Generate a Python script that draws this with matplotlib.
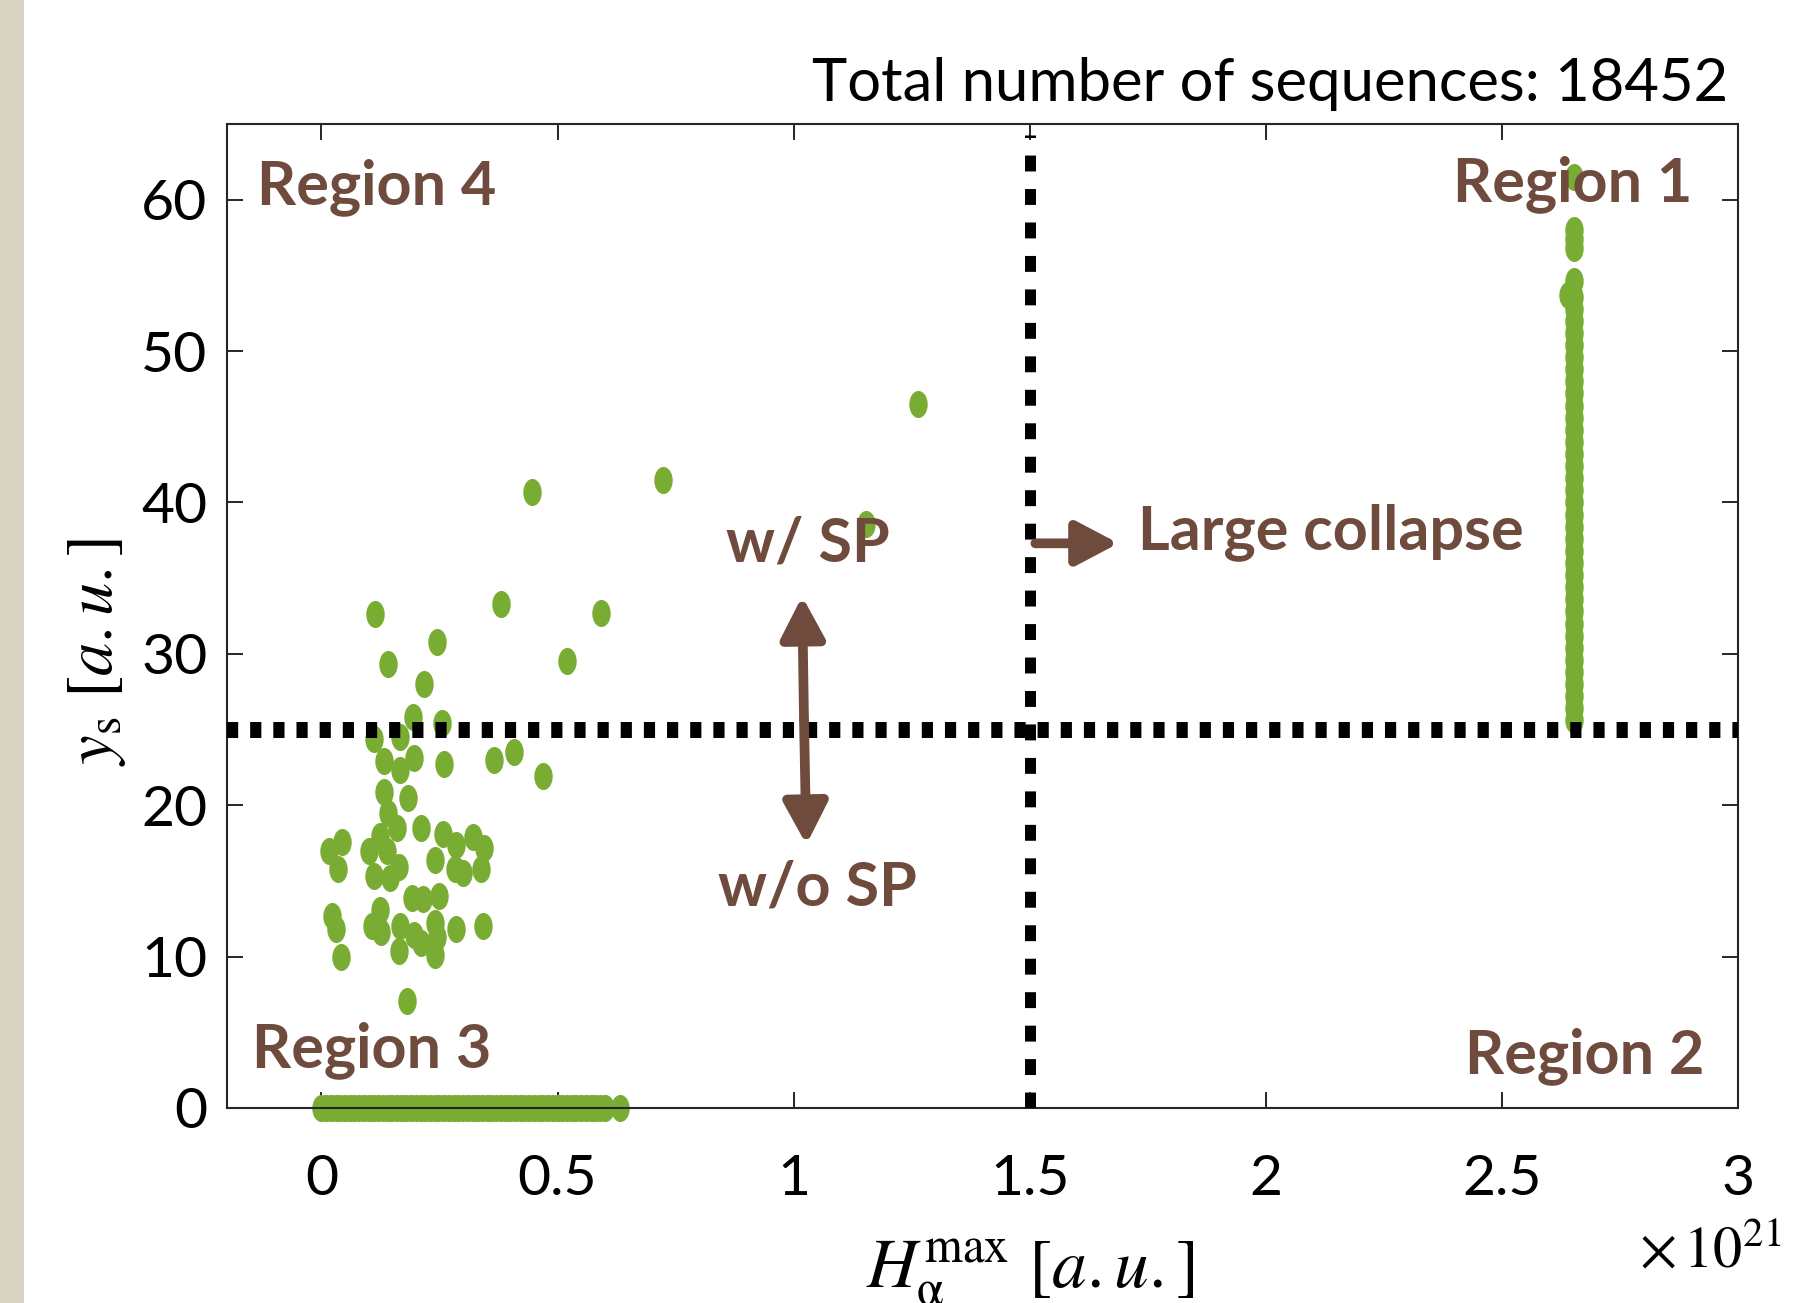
import matplotlib
matplotlib.use("Agg")
import matplotlib.pyplot as plt
from matplotlib.path import Path
from matplotlib.transforms import Affine2D
from matplotlib.patches import Rectangle, FancyArrowPatch

plt.rcParams["font.family"] = ["Lato", "DejaVu Sans"]
plt.rcParams["mathtext.fontset"] = "stix"

GREEN = "#79ac32"
BROWN = "#6f4b3e"
INK = "#262626"

# scattered sequences (x in units of 1e21)
scat_x = [0.113, 0.380, 0.245, 0.142, 0.217, 0.194, 0.255, 0.111, 0.167, 0.133,
          0.195, 0.167, 0.259, 0.366, 0.407, 0.469, 0.132, 0.183, 0.142, 0.160,
          0.123, 0.210, 0.044, 0.015, 0.100, 0.139, 0.257, 0.284, 0.320, 0.344,
          0.035, 0.111, 0.146, 0.164, 0.241, 0.282, 0.299, 0.337, 0.191, 0.215,
          0.248, 0.023, 0.030, 0.123, 0.107, 0.127, 0.166, 0.195, 0.210, 0.241,
          0.245, 0.284, 0.342, 0.042, 0.165, 0.241, 0.181,
          1.263, 0.446, 0.723, 1.153, 0.591, 0.519]
scat_y = [32.6, 33.3, 30.8, 29.3, 28.0, 25.8, 25.4, 24.4, 24.5, 22.9,
          23.1, 22.3, 22.7, 23.0, 23.5, 21.9, 20.9, 20.5, 19.5, 18.5,
          18.0, 18.5, 17.6, 17.0, 17.0, 17.0, 18.1, 17.4, 17.9, 17.2,
          15.8, 15.3, 15.2, 15.9, 16.4, 15.8, 15.5, 15.8, 13.9, 13.8,
          14.0, 12.7, 11.8, 13.1, 12.0, 11.6, 12.0, 11.4, 10.9, 12.2,
          11.3, 11.8, 12.0, 10.0, 10.4, 10.1, 7.1,
          46.5, 40.7, 41.5, 38.6, 32.7, 29.5]

# region 3: y_s = 0
bar_x = [0.00, 0.01, 0.02, 0.03, 0.04, 0.05, 0.06, 0.07, 0.08, 0.09,
         0.10, 0.11, 0.12, 0.13, 0.14, 0.15, 0.16, 0.17, 0.18, 0.19,
         0.20, 0.21, 0.22, 0.23, 0.24, 0.25, 0.26, 0.27, 0.28, 0.29,
         0.30, 0.31, 0.32, 0.33, 0.34, 0.35, 0.36, 0.37, 0.38, 0.39,
         0.40, 0.41, 0.42, 0.43, 0.44, 0.45, 0.46, 0.47, 0.48, 0.49,
         0.50, 0.51, 0.52, 0.53, 0.54, 0.55, 0.56, 0.57, 0.58, 0.59,
         0.60, 0.633]
bar_y = [0.0] * len(bar_x)

# region 1: large collapse column
col_y = [25.6, 26.4, 27.2, 28.0, 28.8, 29.6, 30.4, 31.2, 32.0, 32.8,
         33.6, 34.4, 35.2, 36.0, 36.8, 37.6, 38.4, 39.2, 40.0, 40.8,
         41.6, 42.4, 43.2, 44.0, 44.8, 45.6, 46.4, 47.2, 48.0, 48.8,
         49.6, 50.4, 51.2, 52.0, 52.8, 53.6, 54.6, 56.8, 57.4, 58.0,
         61.5]
col_x = [2.653] * len(col_y)
off_x = [2.640]
off_y = [53.7]

n_total = 18452
x_ticks = [0, 0.5, 1, 1.5, 2, 2.5, 3]
x_ticklabels = ["0", "0.5", "1", "1.5", "2", "2.5", "3"]
y_ticks = [0, 10, 20, 30, 40, 50, 60]

W, H = 1793, 1303
fig = plt.figure(figsize=(W / 100, H / 100), dpi=100)
fig.patches.append(Rectangle((0, 0), 24 / W, 1, transform=fig.transFigure,
                             facecolor="#d8d2c3", edgecolor="none"))
ax = fig.add_axes([227 / W, 1 - 1108 / H, (1738 - 227) / W, (1108 - 124) / H])

ell = Path.unit_circle().transformed(Affine2D().scale(0.68, 1.0))
kw = dict(linestyle="none", marker=ell, ms=19.5, mfc=GREEN, mec="none", zorder=2)
ax.plot(bar_x, bar_y, clip_on=False, **kw)
ax.plot(scat_x, scat_y, **kw)
ax.plot(col_x, col_y, **kw)
ax.plot(off_x, off_y, **kw)

# thresholds
hl, = ax.plot([-0.2, 3], [25, 25], color="black", lw=11.5, zorder=3,
              dash_capstyle="butt")
hl.set_dashes([0.7, 0.75])
vl, = ax.plot([1.5, 1.5], [0, 64.3], color="black", lw=7.9, zorder=3,
              dash_capstyle="butt")
vl.set_dashes([1.45, 1.6])

ax.set_xlim(-0.2, 3)
ax.set_ylim(0, 65)
ax.set_xticks(x_ticks)
ax.set_xticklabels(x_ticklabels)
ax.set_yticks(y_ticks)
ax.tick_params(direction="in", length=11.5, width=1.4, color=INK,
               top=True, right=True, labelsize=41, labelcolor="black")
ax.tick_params(axis="x", pad=33)
ax.tick_params(axis="y", pad=14)
for s in ax.spines.values():
    s.set_linewidth(1.5)
    s.set_color(INK)

lab = dict(color=BROWN, fontsize=44, fontweight="bold", zorder=4)
ax.text(-0.136, 59.7, "Region 4", ha="left", va="baseline", **lab)
ax.text(2.903, 59.9, "Region 1", ha="right", va="baseline", **lab)
ax.text(-0.146, 2.7, "Region 3", ha="left", va="baseline", **lab)
ax.text(2.928, 2.3, "Region 2", ha="right", va="baseline", **lab)
ax.text(1.031, 36.1, "w/ SP", ha="center", va="baseline", **lab)
ax.text(1.05, 13.4, "w/o SP", ha="center", va="baseline", **lab)
ax.text(1.730, 36.9, "Large collapse", ha="left", va="baseline", **lab)

arr = dict(arrowstyle="-|>,head_length=1.8,head_width=0.95", mutation_scale=14,
           lw=7, color=BROWN, zorder=4, shrinkA=0, shrinkB=0)
ax.add_patch(FancyArrowPatch((1.022, 25.6), (1.018, 33.8), **arr))
ax.add_patch(FancyArrowPatch((1.022, 25.6), (1.027, 17.4), **arr))
ax.add_patch(FancyArrowPatch((1.512, 37.3), (1.688, 37.3), **arr))

fig.text(1728 / W, 1 - 101 / H, f"Total number of sequences: {n_total}",
         ha="right", va="baseline", fontsize=43)
fig.text(1030 / W, 1 - 1287 / H, r"$H_{\mathrm{\alpha}}^{\mathrm{max}}\ [a.u.]$",
         ha="center", va="baseline", fontsize=50)
fig.text(97 / W, 1 - 652 / H, r"$y_{\mathrm{s}}\ [a.u.]$", rotation=90,
         ha="center", va="center", fontsize=48)
fig.text(1710 / W, 1 - 1268 / H, r"$\times\,10^{21}$", ha="center",
         va="baseline", fontsize=42)

fig.savefig("out.png", dpi=100)
